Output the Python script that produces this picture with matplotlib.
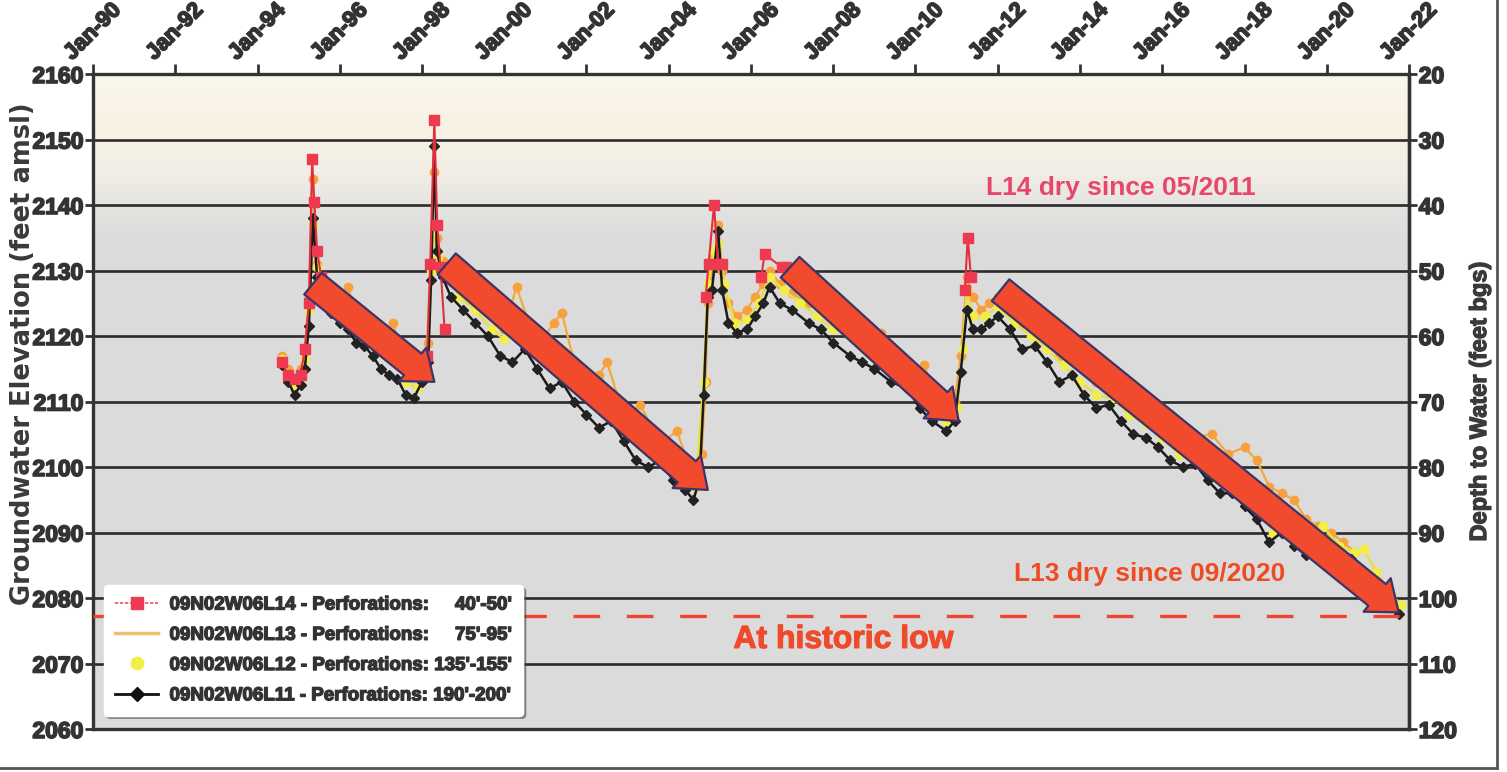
import matplotlib
matplotlib.use("Agg")
import matplotlib.pyplot as plt
import matplotlib.dates as mdates
import matplotlib.patheffects as pe
from matplotlib.lines import Line2D
import numpy as np
from datetime import datetime, timedelta

plt.rcParams['font.family'] = ['Liberation Sans', 'DejaVu Sans']
plt.rcParams['font.weight'] = 'bold'

# ---------------- data (decimal years, elevation ft amsl) ----------------
l11_t = [1994.6, 1994.75, 1994.9, 1995.05, 1995.15, 1995.25, 1995.35, 1995.45, 1995.6, 1995.8,
         1996.0, 1996.2, 1996.4, 1996.6, 1996.8, 1997.0, 1997.2, 1997.4, 1997.6, 1997.8,
         1998.0, 1998.15, 1998.22, 1998.3, 1998.36, 1998.5, 1998.7, 1999.0, 1999.3, 1999.6,
         1999.9, 2000.2, 2000.5, 2000.8, 2001.1, 2001.4, 2001.7, 2002.0, 2002.3, 2002.6,
         2002.9, 2003.2, 2003.5, 2003.8, 2004.1, 2004.4, 2004.6, 2004.75, 2004.85, 2004.95,
         2005.05, 2005.2, 2005.3, 2005.45, 2005.65, 2005.9, 2006.1, 2006.3, 2006.45, 2006.7,
         2007.0, 2007.4, 2007.7, 2008.0, 2008.4, 2008.7, 2009.0, 2009.4, 2009.8, 2010.1,
         2010.4, 2010.75, 2010.95, 2011.1, 2011.25, 2011.4, 2011.6, 2011.8, 2012.0, 2012.3,
         2012.6, 2012.9, 2013.2, 2013.5, 2013.8, 2014.1, 2014.4, 2014.7, 2015.0, 2015.3,
         2015.6, 2015.9, 2016.2, 2016.5, 2016.8, 2017.1, 2017.4, 2017.7, 2018.0, 2018.3,
         2018.6, 2018.9, 2019.2, 2019.5, 2019.8, 2020.1, 2020.4, 2020.6, 2020.9, 2021.2,
         2021.5, 2021.75]
l11_v = [2115.5, 2113, 2111, 2112.5, 2115, 2121.5, 2138, 2129, 2126, 2123.5,
         2122, 2121, 2119, 2118.5, 2117, 2115, 2114, 2113.5, 2111, 2110.5,
         2113, 2116, 2128.5, 2149, 2133, 2129, 2126, 2124, 2122, 2120,
         2117, 2116, 2118, 2115, 2112, 2113, 2110, 2108, 2106, 2107,
         2104, 2101, 2100, 2101, 2098, 2096.5, 2095, 2098, 2111, 2126,
         2127, 2136, 2127, 2122, 2120.5, 2121, 2123, 2125, 2127.5, 2125,
         2124, 2122, 2121, 2119, 2117, 2116, 2115, 2113, 2112, 2109,
         2107, 2105.5, 2107, 2114.5, 2124, 2121, 2121, 2122, 2123, 2121,
         2118, 2118.5, 2116, 2113, 2114, 2111, 2109, 2109.5, 2107, 2105,
         2104.5, 2103, 2101, 2100, 2100.5, 2098, 2096, 2096, 2094, 2092,
         2088.5, 2090, 2088, 2086.5, 2087, 2085, 2084.5, 2086, 2083, 2081,
         2079, 2077.5]

l12_t = [1994.6, 1994.75, 1994.9, 1995.05, 1995.15, 1995.25, 1995.35, 1995.45, 1995.7, 1996.0,
         1996.2, 1996.5, 1996.8, 1997.1, 1997.3, 1997.6, 1997.9, 1998.1, 1998.22, 1998.3,
         1998.4, 1998.6, 1998.9, 1999.3, 1999.7, 2000.0, 2000.3, 2000.7, 2001.0, 2001.4,
         2001.8, 2002.2, 2002.5, 2002.9, 2003.3, 2003.7, 2004.1, 2004.4, 2004.65, 2004.85,
         2004.95, 2005.1, 2005.2, 2005.35, 2005.6, 2005.9, 2006.2, 2006.45, 2006.8, 2007.2,
         2007.6, 2008.0, 2008.4, 2008.8, 2009.2, 2009.6, 2010.0, 2010.4, 2010.75, 2011.0,
         2011.15, 2011.25, 2011.4, 2011.7, 2012.0, 2012.4, 2012.8, 2013.2, 2013.6, 2014.0,
         2014.4, 2014.8, 2015.2, 2015.6, 2016.0, 2016.4, 2016.8, 2017.2, 2017.6, 2018.0,
         2018.4, 2018.7, 2019.0, 2019.4, 2019.9, 2020.3, 2020.7, 2020.9, 2021.2, 2021.5,
         2021.8]
l12_v = [2116.5, 2114, 2112.5, 2113.5, 2116.5, 2124, 2137, 2130.5, 2126, 2124,
         2124.5, 2120.5, 2118.5, 2117, 2118, 2113, 2112, 2116.5, 2130, 2136,
         2132, 2129.5, 2126, 2124, 2121, 2119.5, 2122, 2117.5, 2116, 2118,
         2112, 2110, 2111, 2106.5, 2105, 2102.5, 2101.5, 2098.5, 2097, 2113,
         2128, 2133, 2134, 2128, 2122, 2122.5, 2125, 2129, 2127, 2125,
         2123, 2121, 2120.5, 2117.5, 2117, 2114, 2113, 2110, 2107, 2109,
         2118, 2127, 2123, 2123, 2124.5, 2122, 2120, 2118, 2115.5, 2113,
         2111, 2110.5, 2108, 2106.5, 2104.5, 2102, 2101.5, 2100, 2098, 2097,
         2094, 2090, 2091, 2089, 2091, 2088, 2087, 2087.5, 2084, 2081,
         2079]

l13_t = [1994.6, 1994.75, 1994.9, 1995.05, 1995.15, 1995.25, 1995.35, 1995.45, 1995.6, 1995.8,
         1996.0, 1996.2, 1996.4, 1996.6, 1996.8, 1997.0, 1997.3, 1997.5, 1997.8, 1998.0,
         1998.15, 1998.22, 1998.3, 1998.36, 1998.5, 1998.8, 1999.1, 1999.4, 1999.7, 2000.0,
         2000.3, 2000.6, 2000.9, 2001.2, 2001.4, 2001.7, 2002.0, 2002.3, 2002.5, 2002.8,
         2003.1, 2003.3, 2003.6, 2003.9, 2004.2, 2004.45, 2004.65, 2004.8, 2004.9, 2004.95,
         2005.1, 2005.2, 2005.3, 2005.45, 2005.65, 2005.9, 2006.1, 2006.3, 2006.45, 2006.7,
         2007.0, 2007.4, 2007.7, 2008.0, 2008.2, 2008.5, 2008.8, 2009.15, 2009.5, 2009.8,
         2010.2, 2010.5, 2010.75, 2010.95, 2011.1, 2011.25, 2011.4, 2011.6, 2011.8, 2012.0,
         2012.3, 2012.6, 2012.9, 2013.2, 2013.5, 2013.8, 2014.1, 2014.4, 2014.7, 2015.0,
         2015.3, 2015.6, 2015.9, 2016.2, 2016.5, 2016.8, 2017.2, 2017.6, 2018.0, 2018.3,
         2018.6, 2018.9, 2019.2, 2019.5, 2019.8, 2020.1, 2020.4, 2020.7]
l13_v = [2117, 2115, 2113.5, 2115, 2118, 2126, 2144, 2131, 2128, 2126,
         2125, 2127.5, 2123, 2121, 2119.5, 2118, 2122, 2117, 2114, 2116,
         2119, 2131, 2145, 2135, 2131.5, 2129, 2127, 2126, 2123, 2121,
         2127.5, 2122, 2119, 2122, 2123.5, 2116, 2113, 2114, 2116, 2110,
         2108, 2109.5, 2106, 2104, 2105.5, 2101, 2099, 2102, 2113, 2125,
         2132, 2137, 2130, 2125, 2123, 2124, 2126, 2128, 2130, 2128,
         2126.5, 2125, 2124, 2124, 2125.5, 2121, 2119, 2120.5, 2117, 2115,
         2115.5, 2111, 2109, 2110, 2117, 2129, 2126, 2124, 2125, 2126,
         2124.5, 2122, 2122.5, 2120, 2117, 2117.5, 2115, 2113, 2113.5, 2111,
         2109, 2108.5, 2107, 2105, 2104, 2104.5, 2105, 2102, 2103, 2101,
         2097, 2096, 2095, 2092, 2091, 2090, 2088.5, 2087]

l14_t = [1994.6, 1994.75, 1994.9, 1995.05, 1995.15, 1995.25, 1995.33, 1995.38, 1995.45, 1995.55,
         1996.0,
         1998.12, 1998.2, 1998.3, 1998.37, 1998.45, 1998.55,
         2002.0,
         2004.9, 2004.97, 2005.1, 2005.2, 2005.3,
         2005.8,
         2006.25, 2006.33, 2006.75, 2006.85,
         2009.0,
         2011.2, 2011.27, 2011.35]
l14_v = [2116, 2114, 2113.5, 2114, 2118, 2125, 2147, 2140.5, 2133, 2129,
         np.nan,
         2117, 2131, 2153, 2137, 2130.5, 2121,
         np.nan,
         2126, 2131, 2140, 2131, 2131,
         np.nan,
         2129, 2132.5, 2130.5, 2130.5,
         np.nan,
         2127, 2135, 2129]

# arrows: (start year, start elev, end year, end elev)
arrow_start_t = [1995.35, 1998.6, 2006.95, 2012.07]
arrow_start_v = [2128.0, 2131.0, 2130.5, 2127.0]
arrow_end_t = [1998.3, 2004.95, 2011.05, 2021.75]
arrow_end_v = [2113.0, 2096.5, 2107.0, 2077.8]

yticks_left = list(range(2060, 2161, 10))
yticks_right = list(range(20, 121, 10))
historic_low = 2077.3

legend_labels = ["09N02W06L14 - Perforations:     40'-50'",
                 "09N02W06L13 - Perforations:     75'-95'",
                 "09N02W06L12 - Perforations: 135'-155'",
                 "09N02W06L11 - Perforations: 190'-200'"]


def to_dates(years):
    out = []
    for y in years:
        yi = int(y)
        out.append(datetime(yi, 1, 1) + timedelta(days=(y - yi) * 365.25))
    return out


def heavy(color, w=0.9):
    return [pe.withStroke(linewidth=w, foreground=color)]


W, H = 1507, 772
fig = plt.figure(figsize=(W / 100, H / 100), dpi=100)
fig.patch.set_facecolor("white")
ax = fig.add_axes([93 / W, 1 - 729 / H, (1409 - 93) / W, (729 - 74) / H])

xmin, xmax = datetime(1990, 1, 1), datetime(2022, 1, 1)

# series
l13, = ax.plot(to_dates(l13_t), l13_v, color="#f4a83a", lw=1.6, marker="o", ms=6,
               mfc="#f7a040", mec="#f7a040", zorder=3, label=legend_labels[1])
l12, = ax.plot(to_dates(l12_t), l12_v, color="#e8e040", lw=1.8, marker="o", ms=6,
               mfc="#f2ee45", mec="#f2ee45", zorder=3.2, label=legend_labels[2])
l11, = ax.plot(to_dates(l11_t), l11_v, color="#1a1a1a", lw=1.8, marker="D", ms=5.5,
               mfc="#222222", mec="#222222", zorder=3.5, label=legend_labels[3])
l14, = ax.plot(to_dates(l14_t), l14_v, color="#e0303c", lw=1.5, marker="s", ms=7,
               mfc="#ee3a50", mec="#ee3a50", zorder=3.8, label=legend_labels[0])

# background gradient
x0n, x1n = mdates.date2num(xmin), mdates.date2num(xmax)
ys = np.linspace(2160, 2060, 400)
stops_y = [2160, 2152, 2145, 2139, 2135, 2060]
stops_c = np.array([[250, 246, 236], [248, 242, 228], [242, 238, 230],
                    [226, 226, 224], [220, 220, 220], [219, 219, 219]]) / 255.0
grad = np.zeros((len(ys), 1, 3))
for k in range(3):
    grad[:, 0, k] = np.interp(ys, stops_y[::-1], stops_c[::-1, k])
ax.imshow(grad, extent=[x0n, x1n, 2060, 2160], aspect="auto", zorder=0,
          interpolation="bilinear")

for y in yticks_left[1:-1]:
    ax.axhline(y, color="#2b2b2b", lw=1.9, zorder=1)

# arrows
for st, sv, et, ev in zip(arrow_start_t, arrow_start_v, arrow_end_t, arrow_end_v):
    ax.annotate("", xy=(to_dates([et])[0], ev), xytext=(to_dates([st])[0], sv),
                arrowprops=dict(arrowstyle="simple,head_length=1.0,head_width=1.55,tail_width=1.0",
                                mutation_scale=20, fc="#f24a2c", ec="#3c3468", lw=1.6,
                                shrinkA=0, shrinkB=0),
                zorder=6)

# historic low dashed line
ax.plot([xmin, datetime(2021, 10, 1)], [historic_low, historic_low], color="#ef4530",
        lw=2.4, dashes=(8, 8), zorder=5)

# annotations
ax.text(to_dates([2015.0])[0], 2142.6, "L14 dry since 05/2011", color="#e8466a",
        fontsize=19, fontweight="bold", ha="center", va="center", zorder=7)
ax.text(to_dates([2015.7])[0], 2083.6, "L13 dry since 09/2020", color="#f04a22",
        fontsize=19, fontweight="bold", ha="center", va="center", zorder=7)
ax.text(to_dates([2008.25])[0], 2073.6, "At historic low", color="#f04a2c",
        fontsize=23, fontweight="bold", ha="center", va="center", zorder=7,
        path_effects=heavy("#f04a2c", 0.8))

# axes formatting
ax.set_xlim(xmin, xmax)
ax.set_ylim(2060, 2160)
ax.xaxis.set_major_locator(mdates.YearLocator(2, month=1, day=1))
ax.xaxis.set_major_formatter(mdates.DateFormatter("Jan-%y"))
ax.xaxis.tick_top()
ax.tick_params(axis="x", which="major", direction="out", length=7, width=2,
               labelsize=16, pad=0, colors="#333333")
for lab in ax.get_xticklabels():
    lab.set_rotation(45)
    lab.set_ha("center")
    lab.set_va("bottom")
    lab.set_fontweight("bold")
    lab.set_path_effects(heavy("#333333", 1.2))
ax.set_yticks(yticks_left)
ax.tick_params(axis="y", direction="out", length=6, width=2, labelsize=16.5,
               pad=1, colors="#333333")
for lab in ax.get_yticklabels():
    lab.set_fontweight("bold")
    lab.set_path_effects(heavy("#333333", 1.2))
for s in ax.spines.values():
    s.set_color("#333333")
    s.set_linewidth(2.4)
ax.set_ylabel("Groundwater Elevation (feet amsl)", fontsize=18.5, color="#3a3a3a",
              fontweight="bold", family=["DejaVu Sans"])
ax.yaxis.set_label_coords(-0.0433, 0.573)

sec = ax.secondary_yaxis("right", functions=(lambda e: 2180 - e, lambda d: 2180 - d))
sec.set_yticks(yticks_right)
sec.tick_params(direction="out", length=6, width=2, labelsize=16.5, pad=1, colors="#333333")
for lab in sec.get_yticklabels():
    lab.set_fontweight("bold")
    lab.set_path_effects(heavy("#333333", 1.2))
sec.spines["right"].set_color("#333333")
sec.spines["right"].set_linewidth(2.4)
sec.set_ylabel("Depth to Water (feet bgs)", fontsize=17, color="#3a3a3a",
               fontweight="bold", labelpad=8, path_effects=heavy("#3a3a3a", 0.9))

# legend
h14 = Line2D([], [], color="#ee5060", lw=1.2, ls=(0, (2, 1)), marker="s", ms=9,
             mfc="#ee3a55", mec="#ee3a55")
h13 = Line2D([], [], color="#f0c070", lw=2.5)
h12 = Line2D([], [], color="none", marker="o", ms=9, mfc="#f0f048", mec="#f0f048")
h11 = Line2D([], [], color="#111111", lw=2, marker="D", ms=7, mfc="#111111", mec="#111111")
leg = ax.legend([h14, h13, h12, h11], legend_labels, loc="lower left",
                bbox_to_anchor=(0.004, 0.012),
                prop={"size": 13.5, "weight": "bold"}, frameon=True,
                fancybox=True, shadow=True, labelspacing=0.7, handlelength=2.3,
                borderpad=0.6, handletextpad=0.6, borderaxespad=0.3)
leg.get_frame().set_facecolor("white")
leg.get_frame().set_edgecolor("white")
leg.set_zorder(8)
for t in leg.get_texts():
    t.set_color("#333333")
    t.set_path_effects(heavy("#333333", 1.0))

# outer figure frame
fig.add_artist(Line2D([1497 / W, 1497 / W], [0.005, 1], transform=fig.transFigure,
                      color="#555555", lw=2))
fig.add_artist(Line2D([0.0, 1497 / W], [0.005, 0.005], transform=fig.transFigure,
                      color="#555555", lw=2))

fig.savefig("out.png", dpi=100)
